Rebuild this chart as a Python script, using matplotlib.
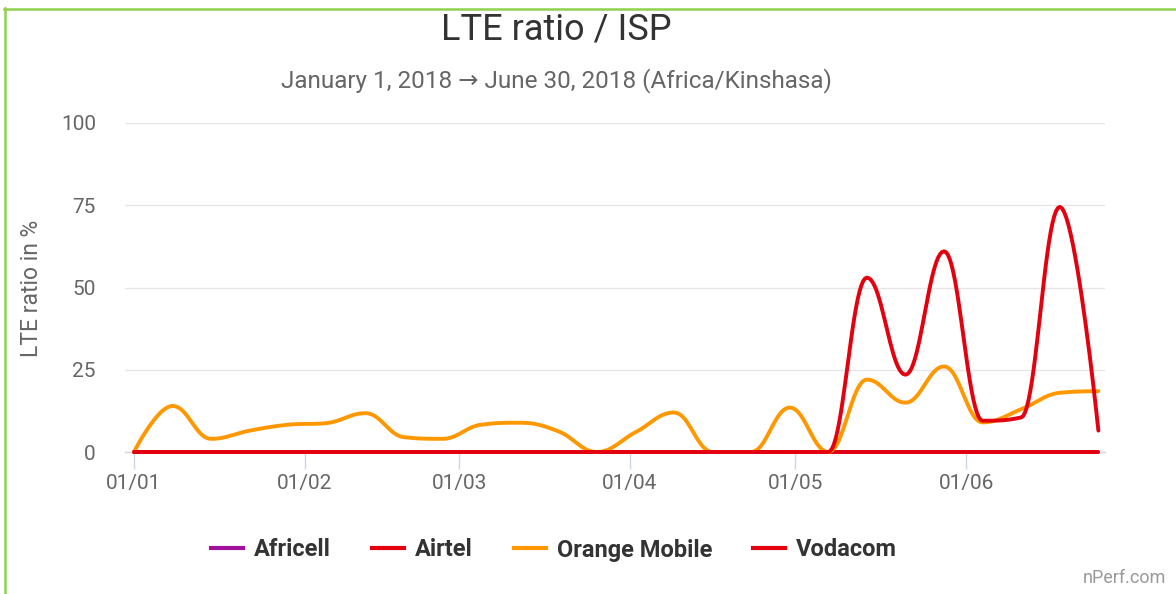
import numpy as np
import pandas as pd
import matplotlib
matplotlib.use("Agg")
import matplotlib.pyplot as plt
import matplotlib.dates as mdates
from matplotlib.lines import Line2D

plt.rcParams['font.family'] = ['Roboto', 'DejaVu Sans']

# weekly samples, Jan 1 2018 -> Jun 25 2018
weeks = pd.date_range('2018-01-01', periods=26, freq='7D')

isps = ['Africell', 'Airtel', 'Orange Mobile', 'Vodacom']
colors = ['#a0119c', '#e3000f', '#ff9800', '#e3000f']

africell = [0] * 26
airtel = [0] * 26
orange_mobile = [0, 14, 4, 6.5, 8.3, 8.8, 11.8, 4.5, 4, 8.3, 8.9, 6.3, 0,
                 6, 12, 0, 0, 13.5, 0, 22, 15, 26, 9, 13, 18, 18.5]
vodacom = [0, 0, 0, 0, 0, 0, 0, 0, 0, 0, 0, 0, 0, 0, 0, 0, 0, 0, 0,
           53, 23.5, 61, 9.5, 10.5, 74.5, 6.5]

series = [africell, airtel, orange_mobile, vodacom]

month_ticks = pd.date_range('2018-01-01', periods=6, freq='MS')
y_ticks = [0, 25, 50, 75, 100]


def spline(xs, ys, smoothing=1.5, n=24):
    # highcharts-like spline: bezier segments with clamped control points
    xs = np.asarray(xs, float)
    ys = np.asarray(ys, float)
    m = len(xs)
    lx, ly = xs.copy(), ys.copy()
    rx, ry = xs.copy(), ys.copy()
    d = smoothing + 1
    for i in range(1, m - 1):
        x, y = xs[i], ys[i]
        px, py = xs[i - 1], ys[i - 1]
        nx, ny = xs[i + 1], ys[i + 1]
        lcx = (smoothing * x + px) / d
        lcy = (smoothing * y + py) / d
        rcx = (smoothing * x + nx) / d
        rcy = (smoothing * y + ny) / d
        corr = (rcy - lcy) * (rcx - x) / (rcx - lcx) + y - rcy
        lcy += corr
        rcy += corr
        if lcy > py and lcy > y:
            lcy = max(py, y)
            rcy = 2 * y - lcy
        elif lcy < py and lcy < y:
            lcy = min(py, y)
            rcy = 2 * y - lcy
        if rcy > ny and rcy > y:
            rcy = max(ny, y)
            lcy = 2 * y - rcy
        elif rcy < ny and rcy < y:
            rcy = min(ny, y)
            lcy = 2 * y - rcy
        lx[i], ly[i], rx[i], ry[i] = lcx, lcy, rcx, rcy
    t = np.linspace(0, 1, n)[:, None]
    out_x, out_y = [xs[0]], [ys[0]]
    for i in range(1, m):
        p0 = np.array([xs[i - 1], ys[i - 1]])
        p1 = np.array([rx[i - 1], ry[i - 1]])
        p2 = np.array([lx[i], ly[i]])
        p3 = np.array([xs[i], ys[i]])
        pts = ((1 - t) ** 3) * p0 + 3 * ((1 - t) ** 2) * t * p1 + 3 * (1 - t) * t ** 2 * p2 + t ** 3 * p3
        out_x.extend(pts[1:, 0])
        out_y.extend(pts[1:, 1])
    return np.array(out_x), np.array(out_y)


fig = plt.figure(figsize=(11.76, 5.94), dpi=100)
ax = fig.add_axes([125 / 1176, 142 / 594, 980 / 1176, 329 / 594])

xnum = mdates.date2num(weeks)
for name, vals, c in zip(isps, series, colors):
    sx, sy = spline(xnum, vals)
    ax.plot(sx, sy, color=c, lw=2.8, solid_capstyle='round',
            solid_joinstyle='round', clip_on=False, zorder=3, label=name)

start = mdates.date2num(pd.Timestamp('2018-01-01'))
ax.set_xlim(start - 1.63, start + 176.2)
ax.set_ylim(0, 100)

ax.set_xticks(mdates.date2num(month_ticks))
ax.xaxis.set_major_formatter(mdates.DateFormatter('%d/%m'))
ax.set_yticks(y_ticks)

for s in ['top', 'right', 'left']:
    ax.spines[s].set_visible(False)
ax.spines['bottom'].set_color('#ccd6eb')
ax.spines['bottom'].set_linewidth(1)
ax.spines['bottom'].set_zorder(2)

ax.grid(axis='y', color='#e6e6e6', lw=1)
ax.set_axisbelow(True)
ax.tick_params(axis='x', length=12, width=1, color='#ccd6eb', labelsize=15,
               labelcolor='#666666', pad=3.5)
ax.tick_params(axis='y', length=0, labelsize=15, labelcolor='#666666', pad=21)

fig.text(32 / 1176, 1 - 288 / 594, 'LTE ratio in %', rotation=90,
         ha='center', va='center', fontsize=16.5, color='#666666')

fig.text(556 / 1176, 1 - 30 / 594, 'LTE ratio / ISP', ha='center',
         va='center', fontsize=26, color='#333333')
fig.text(556 / 1176, 1 - 81 / 594,
         'January 1, 2018 \u2192 June 30, 2018 (Africa/Kinshasa)',
         ha='center', va='center', fontsize=17.5, color='#666666')

handles = [Line2D([], [], color=c, lw=3) for c in colors]
leg = fig.legend(handles, isps, ncol=4, loc='center',
                 bbox_to_anchor=(554 / 1176, 1 - 550 / 594), frameon=False,
                 prop={'size': 17, 'weight': 'bold'}, handlelength=1.36,
                 handletextpad=0.45, columnspacing=1.75)
for t in leg.get_texts():
    t.set_color('#333333')

fig.text(1166 / 1176, 1 - 578 / 594, 'nPerf.com', ha='right', va='center',
         fontsize=13, color='#999999')

# green frame on top and left edge
fig.add_artist(Line2D([4 / 1176, 1], [1 - 9 / 594] * 2, color='#8fd14f',
                      lw=1.8, transform=fig.transFigure))
fig.add_artist(Line2D([4.5 / 1176] * 2, [0, 1 - 8 / 594], color='#8fd14f',
                      lw=1.8, transform=fig.transFigure))

fig.savefig('out.png', dpi=100)
